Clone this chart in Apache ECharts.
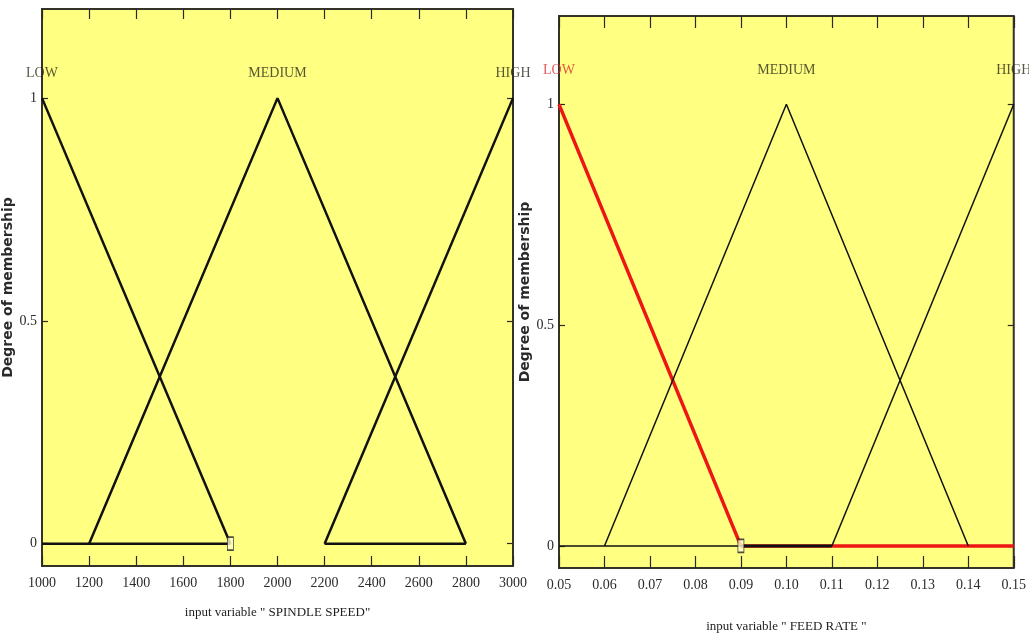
<!DOCTYPE html>
<html>
<head>
<meta charset="utf-8">
<script src="https://cdn.jsdelivr.net/npm/echarts@6/dist/echarts.min.js"></script>
<style>
html,body{margin:0;padding:0;background:#fff;}
#c{width:1029px;height:641px;}
</style>
</head>
<body>
<div id="c"></div>
<script>
// ---- data ----
const spindleTicks = [1000,1200,1400,1600,1800,2000,2200,2400,2600,2800,3000];
const spindleTickLabels = ['1000','1200','1400','1600','1800','2000','2200','2400','2600','2800','3000'];
const feedTicks = [0.05,0.06,0.07,0.08,0.09,0.10,0.11,0.12,0.13,0.14,0.15];
const feedTickLabels = ['0.05','0.06','0.07','0.08','0.09','0.10','0.11','0.12','0.13','0.14','0.15'];
const yTicks = [0,0.5,1];
const yTickLabels = ['0','0.5','1'];

// Spindle speed membership functions
const spLow = [[1000,1],[1800,0]];
const spLowBase = [[1000,0],[1800,0]];
const spMedium = [[1200,0],[2000,1],[2800,0]];
const spHigh = [[2200,0],[3000,1]];
const spHighBase = [[2200,0],[2800,0]];
const spNames = [[1000,1,'LOW'],[2000,1,'MEDIUM'],[3000,1,'HIGH']];
const spMarker = [[1800,0]];

// Feed rate membership functions
const frLow = [[0.05,1],[0.09,0],[0.15,0]];
const frBaseThin = [[0.05,0],[0.09,0]];
const frBaseThick = [[0.09,0],[0.11,0]];
const frMedium = [[0.06,0],[0.10,1],[0.14,0]];
const frHigh = [[0.11,0],[0.15,1]];
const frNames = [[0.05,1,'LOW'],[0.10,1,'MEDIUM'],[0.15,1,'HIGH']];
const frMarker = [[0.09,0]];

// ---- styles ----
const YELLOW = '#ffff82';
const TXT = '#2b2b2b';
const SERIF = '"Liberation Serif", "DejaVu Serif", serif';
const tickStyle = {color:'#2a2a20', width:1.2};

function nearest(ticks, labels, v){
  let best=0, d=1e9;
  ticks.forEach((t,i)=>{ if(Math.abs(t-v)<d){d=Math.abs(t-v);best=i;} });
  return labels[best];
}

function yAxes(gridIndex, nameGap){
  return [
    {gridIndex, type:'value', min:-0.05, max:1.2, position:'left',
     axisLine:{show:false, onZero:false}, splitLine:{show:false},
     axisTick:{show:true, inside:true, length:6, customValues:yTicks, lineStyle:tickStyle},
     axisLabel:{show:true, customValues:yTicks, margin:5, color:TXT, fontFamily:SERIF, fontSize:14,
       formatter:v=>nearest(yTicks, yTickLabels, v)},
     name:'Degree of membership', nameLocation:'middle', nameGap:nameGap, nameRotate:90,
     nameTextStyle:{fontFamily:'"DejaVu Sans", sans-serif', fontWeight:'bold', fontSize:14, color:'#2a2a2a'}
    },
    {gridIndex, type:'value', min:-0.05, max:1.2, position:'right',
     axisLine:{show:false, onZero:false}, splitLine:{show:false},
     axisTick:{show:true, inside:true, length:6, customValues:yTicks, lineStyle:tickStyle},
     axisLabel:{show:false}
    }
  ];
}

function xAxis(gridIndex, min, max, ticks, labels, position, len, extra){
  const ax = {gridIndex, type:'value', min, max, position,
    axisLine:{show:false, onZero:false}, splitLine:{show:false},
    axisTick:{show:true, inside:true, length:len, customValues:ticks, lineStyle:tickStyle},
    axisLabel:{show:false}
  };
  if(position==='bottom'){
    ax.axisLabel = {show:true, customValues:ticks, color:TXT, fontFamily:SERIF, fontSize:14, margin:10,
      formatter:v=>nearest(ticks, labels, v)};
  }
  return Object.assign(ax, extra||{});
}

const blackLine = (xi, yi, data, w) => ({
  type:'line', xAxisIndex:xi, yAxisIndex:yi, data, symbol:'none',
  lineStyle:{color:'#111', width:w}, z:3, silent:true
});

const option = {
  animation:false,
  backgroundColor:'#fff',
  grid:[
    {left:42, top:9, width:471, height:557, show:true, backgroundColor:YELLOW, borderColor:'#33332a', borderWidth:2},
    {left:559, top:16, width:461, height:552, show:true, backgroundColor:YELLOW, borderColor:'#33332a', borderWidth:2}
  ],
  xAxis:[
    xAxis(0, 1000, 3000, spindleTicks, spindleTickLabels, 'bottom', 10,
      {name:'input variable " SPINDLE SPEED"', nameLocation:'middle', nameGap:40,
       nameTextStyle:{fontFamily:SERIF, fontSize:13, color:'#222'}}),
    xAxis(0, 1000, 3000, spindleTicks, spindleTickLabels, 'top', 10),
    xAxis(1, 0.05, 0.15, feedTicks, feedTickLabels, 'bottom', 12,
      {name:'input variable " FEED RATE "', nameLocation:'middle', nameGap:52,
       nameTextStyle:{fontFamily:SERIF, fontSize:13, color:'#222'}}),
    xAxis(1, 0.05, 0.15, feedTicks, feedTickLabels, 'top', 12)
  ],
  yAxis:[].concat(yAxes(0, 24), yAxes(1, 26)),
  series:[
    // left panel
    blackLine(0,0,spLow,2.5),
    blackLine(0,0,spLowBase,2.5),
    blackLine(0,0,spMedium,2.5),
    blackLine(0,0,spHigh,2.5),
    blackLine(0,0,spHighBase,2.5),
    {type:'scatter', xAxisIndex:0, yAxisIndex:0, data:spMarker, symbol:'rect', symbolSize:[6,13],
     itemStyle:{color:'#ffffd0', borderColor:'#222', borderWidth:1.2}, z:5, silent:true},
    {type:'scatter', xAxisIndex:0, yAxisIndex:0, data:spNames, symbolSize:0, z:6, silent:true,
     label:{show:true, position:'top', distance:18, fontFamily:SERIF, fontSize:14, color:'#2e2e1c',
       formatter:p=>p.value[2]}},
    // right panel
    {type:'line', xAxisIndex:2, yAxisIndex:2, data:frLow, symbol:'none', lineStyle:{color:'#ee1515', width:3.5}, z:2, silent:true},
    blackLine(2,2,frBaseThin,1.5),
    blackLine(2,2,frBaseThick,3),
    blackLine(2,2,frMedium,1.5),
    blackLine(2,2,frHigh,1.5),
    {type:'scatter', xAxisIndex:2, yAxisIndex:2, data:frMarker, symbol:'rect', symbolSize:[6,13],
     itemStyle:{color:'#ffffd0', borderColor:'#222', borderWidth:1.2}, z:5, silent:true},
    {type:'scatter', xAxisIndex:2, yAxisIndex:2, symbolSize:0, z:6, silent:true,
     data:frNames.map((d,i)=> i===0 ? {value:d, label:{color:'#e03030'}} : {value:d}),
     label:{show:true, position:'top', distance:27, fontFamily:SERIF, fontSize:14, color:'#2e2e1c',
       formatter:p=>p.value[2]}}
  ]
};

const chart = echarts.init(document.getElementById('c'), null, {renderer:'canvas'});
chart.setOption(option);
</script>
</body>
</html>
